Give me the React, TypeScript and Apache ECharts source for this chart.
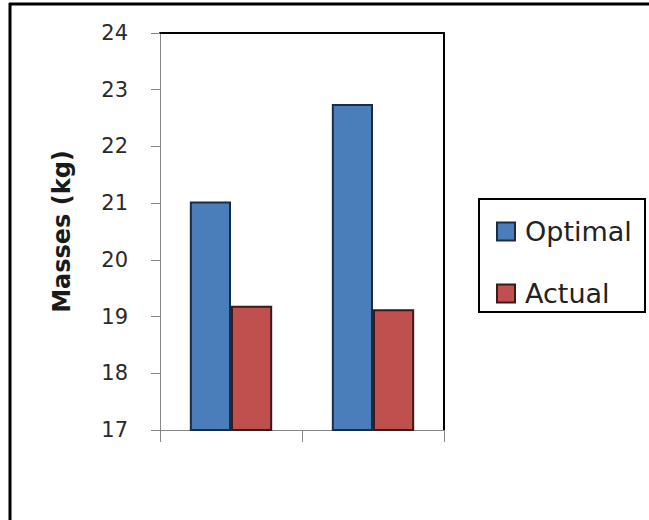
import React, { useEffect, useRef } from "react";
import * as echarts from "echarts";

const categories = ["1", "2"];
const optimal = [21.03, 22.75];
const actual = [19.19, 19.13];
const seriesNames = ["Optimal", "Actual"];
const yTitle = "Masses (kg)";

export default function App() {
  const ref = useRef<HTMLDivElement>(null);
  useEffect(() => {
    const chart = echarts.init(ref.current!, null, { renderer: "svg" });
    const font = "DejaVu Sans";
    chart.setOption({
      animation: false,
      backgroundColor: "#ffffff",
      grid: { left: 160, top: 33, right: 205, bottom: 90, show: false },
      xAxis: [
        {
          type: "category",
          data: categories,
          axisLine: { show: true, lineStyle: { color: "#868686", width: 1 } },
          axisTick: { show: true, length: 12, alignWithLabel: false, lineStyle: { color: "#868686" } },
          axisLabel: { show: false },
        },
        {
          type: "category",
          data: categories,
          position: "top",
          axisLine: { show: true, lineStyle: { color: "#000", width: 2 } },
          axisTick: { show: false },
          axisLabel: { show: false },
        },
      ],
      yAxis: [
        {
          type: "value",
          min: 17,
          max: 24,
          interval: 1,
          name: yTitle,
          nameLocation: "middle",
          nameGap: 86,
          nameTextStyle: { fontFamily: font, fontWeight: "bold", fontSize: 24, color: "#1a1a1a" },
          axisLine: { show: true, lineStyle: { color: "#868686", width: 1 } },
          axisTick: { show: true, length: 9, lineStyle: { color: "#868686" } },
          axisLabel: { fontFamily: font, fontSize: 21, color: "#2a2a2a", margin: 32 },
          splitLine: { show: false },
        },
        {
          type: "value",
          min: 17,
          max: 24,
          interval: 1,
          position: "right",
          axisLine: { show: true, lineStyle: { color: "#000", width: 2 } },
          axisTick: { show: false },
          axisLabel: { show: false },
          splitLine: { show: false },
        },
      ],
      legend: {
        orient: "vertical",
        left: 496,
        top: 218,
        itemWidth: 18,
        itemHeight: 18,
        itemGap: 35,
        padding: 0,
        icon: "rect",
        textStyle: { fontFamily: font, fontSize: 27, color: "#222", lineHeight: 24, padding: [0, 0, 0, 5] },
        data: [
          { name: seriesNames[0], itemStyle: { color: "#4A7EBB", borderColor: "#1c2b45", borderWidth: 2 } },
          { name: seriesNames[1], itemStyle: { color: "#C0504D", borderColor: "#3a1a1a", borderWidth: 2 } },
        ],
      },
      series: [
        {
          name: seriesNames[0],
          type: "bar",
          data: optimal,
          barWidth: "29%",
          barGap: "0%",
          itemStyle: { color: "#4A7EBB", borderColor: "#1c2b45", borderWidth: 2 },
        },
        {
          name: seriesNames[1],
          type: "bar",
          data: actual,
          barWidth: "29%",
          barGap: "0%",
          itemStyle: { color: "#C0504D", borderColor: "#3a1a1a", borderWidth: 2 },
        },
      ],
      graphic: [
        { type: "rect", shape: { x: 479, y: 199, width: 166, height: 113 }, style: { fill: "none", stroke: "#000", lineWidth: 2 }, silent: true },
        { type: "line", shape: { x1: 9, y1: 4, x2: 649, y2: 4 }, style: { stroke: "#000", lineWidth: 3 }, silent: true },
        { type: "line", shape: { x1: 10, y1: 3, x2: 10, y2: 520 }, style: { stroke: "#000", lineWidth: 3 }, silent: true },
      ],
    });
    return () => chart.dispose();
  }, []);
  return (
    <div
      ref={ref}
      style={{ position: "absolute", left: 0, top: 0, width: 649, height: 520 }}
    />
  );
}
